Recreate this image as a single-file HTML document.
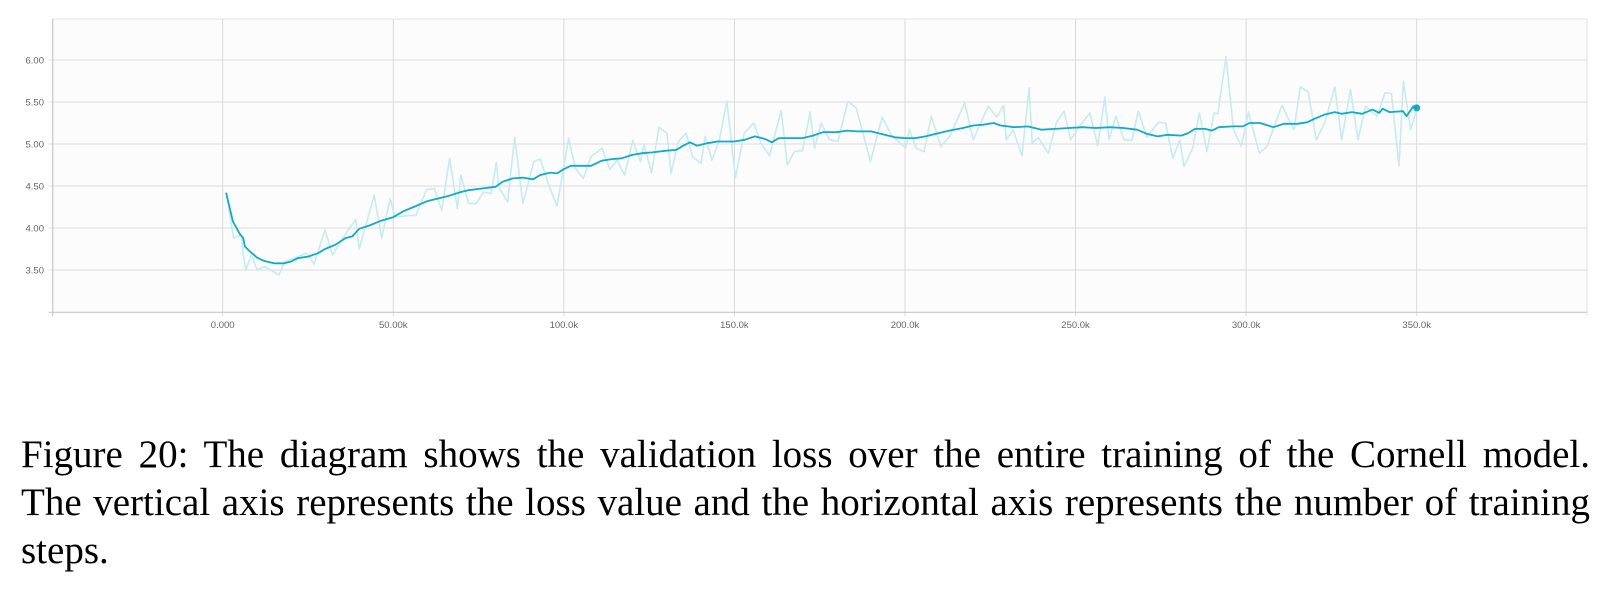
<!DOCTYPE html>
<html><head><meta charset="utf-8"><style>
html,body{margin:0;padding:0;background:#fff;width:1603px;height:596px;overflow:hidden}
svg{position:absolute;left:0;top:0}
.cap{position:absolute;left:21px;width:1569px;font-family:"Liberation Serif",serif;font-size:39px;color:#000;line-height:48px;height:48px}
.j{text-align:justify;text-align-last:justify}
</style></head><body>
<svg width="1603" height="340" id="chart"></svg>
<div class="cap j" style="top:431px">Figure 20: The diagram shows the validation loss over the entire training of the Cornell model.</div>
<div class="cap j" style="top:479px">The vertical axis represents the loss value and the horizontal axis represents the number of training</div>
<div class="cap" style="top:527px">steps.</div>
<script>
const xTicks=[0,50000,100000,150000,200000,250000,300000,350000];
const xTickLabels=["0.000","50.00k","100.0k","150.0k","200.0k","250.0k","300.0k","350.0k"];
const yTicks=[3.5,4.0,4.5,5.0,5.5,6.0];
const yTickLabels=["3.50","4.00","4.50","5.00","5.50","6.00"];
const rawSteps=[1.1,3.2,5.5,6.0,6.8,8.4,10.1,12.3,16.5,18.2,22.1,24.6,26.8,30.0,32.2,36.5,39,40,44.4,46.6,49.1,50.5,54.9,56.6,59.8,62,64.2,66.5,68.8,69.8,72.1,74.3,76.5,78.7,80.2,80.9,83.5,85.6,88,91.2,93.1,95.6,98,101.4,103.4,105.7,108,111.2,113.5,115.6,117.8,120.2,122.5,123.5,125.7,127.9,130.2,131.4,133.5,135.8,137.7,140.2,141.4,143.4,145.6,147.8,150.3,152.9,155.7,157.8,160.3,163.7,165.5,167.6,170,172.2,173.5,175.4,177.9,180.3,183.3,185.7,189.9,193.3,196,200.2,201.3,203.3,205.6,207.7,210.5,213.1,217.5,220,224.4,226.9,228.9,229.7,231.7,234.3,236.4,237.3,239,242,244.4,246.6,248.6,250.8,254.2,256.5,258.6,259.8,261.8,264.2,266.5,268.4,270.9,274.3,276.4,278.5,280.6,281.8,284.3,286.3,288.5,290.6,291.7,294.1,296.3,298.6,300.7,303.9,306.1,310.5,314,315.9,318.2,320.6,323.1,326,328,330.6,332.8,335,338.4,340.7,342.6,344.8,346.1,348.2,350.2];
const rawValues=[4.41,3.88,3.92,3.68,3.50,3.68,3.50,3.54,3.44,3.60,3.66,3.70,3.57,3.98,3.68,3.96,4.10,3.75,4.39,3.88,4.35,4.13,4.15,4.15,4.46,4.47,4.21,4.83,4.23,4.63,4.29,4.29,4.43,4.41,4.78,4.49,4.31,5.08,4.29,4.79,4.82,4.51,4.26,5.07,4.71,4.59,4.85,4.95,4.70,4.81,4.63,5.04,4.79,4.99,4.66,5.20,5.13,4.65,5.02,5.13,4.85,4.77,5.09,4.81,5.05,5.51,4.60,5.13,5.25,5.01,4.86,5.40,4.75,4.91,4.92,5.38,4.95,5.25,5.05,5.03,5.51,5.43,4.79,5.32,5.11,4.95,5.17,4.95,4.91,5.33,4.97,5.09,5.49,5.05,5.45,5.32,5.46,5.05,5.17,4.86,5.67,5.01,5.08,4.89,5.26,5.39,5.05,5.19,5.37,4.98,5.56,5.05,5.33,5.05,5.04,5.39,5.08,5.26,5.25,4.83,5.05,4.73,4.95,5.37,4.91,5.37,5.36,6.04,5.17,4.97,5.38,4.89,4.97,5.46,5.17,5.68,5.62,5.05,5.26,5.68,5.05,5.65,5.05,5.45,5.33,5.61,5.60,4.74,5.75,5.17,5.43];
const smoothSteps=[1,3,5,6,6.5,8,10,12,15,18,20,22,25,28,30,33,36,38,40,43,46,50,53,56,60,63,66,70,72,76,80,82,85,88,91,93,96,98,100,102,105,108,111,114,117,120,123,126,130,133,135,137,139,142,145,150,153,156,159,161,163,166,170,173,176,180,183,186,190,193,197,200,203,206,209,213,217,220,223,226,228,232,236,240,244,248,252,256,260,264,268,271,274,277,281,283,285,288,290,292,296,299,301,304,308,311,315,318,320,323,326,328,331,334,337,339,340,342,346,347,349,350];
const smoothValues=[4.42,4.08,3.93,3.88,3.78,3.72,3.65,3.61,3.58,3.58,3.60,3.64,3.66,3.70,3.75,3.80,3.88,3.90,3.99,4.03,4.08,4.13,4.20,4.25,4.32,4.35,4.38,4.43,4.45,4.47,4.49,4.55,4.59,4.60,4.58,4.63,4.66,4.65,4.70,4.74,4.74,4.74,4.80,4.82,4.83,4.87,4.89,4.90,4.92,4.93,4.98,5.02,4.98,5.01,5.03,5.03,5.05,5.09,5.06,5.02,5.07,5.07,5.07,5.10,5.14,5.14,5.16,5.15,5.15,5.12,5.08,5.07,5.07,5.09,5.12,5.16,5.19,5.22,5.23,5.25,5.22,5.20,5.21,5.17,5.18,5.19,5.20,5.19,5.20,5.19,5.17,5.12,5.09,5.11,5.10,5.13,5.18,5.18,5.16,5.20,5.21,5.21,5.25,5.25,5.20,5.24,5.24,5.26,5.30,5.35,5.38,5.36,5.38,5.36,5.41,5.37,5.42,5.38,5.39,5.33,5.45,5.43];

const svg=document.getElementById('chart');
const NS='http://www.w3.org/2000/svg';
const L=52.7,R=1587,T=19,B=312.3;
const xs=s=>222.7+s*1194/350000;
const ys=v=>270-(v-3.5)*84;
function mk(tag,at){const e=document.createElementNS(NS,tag);for(const k in at)e.setAttribute(k,at[k]);svg.appendChild(e);return e;}
let e=mk('rect',{x:L,y:T,width:R-L,height:B-T,fill:'#fcfcfc'});


e=mk('line',{x1:L,y1:T,x2:R,y2:T,stroke:'#e4e4e4','stroke-width':1});


e=mk('line',{x1:R,y1:T,x2:R,y2:B+4,stroke:'#e0e0e0','stroke-width':1});


yTicks.forEach((v,i)=>{
  const g=mk('line',{x1:L-4,y1:ys(v),x2:R,y2:ys(v),stroke:'#dcdcdc','stroke-width':1});
  
  
  const t=mk('text',{x:44,y:ys(v)+3.5,'text-anchor':'end','font-family':'Liberation Sans, sans-serif','font-size':'9.5',fill:'#666'});
  t.textContent=yTickLabels[i];
  
  
});
xTicks.forEach((s,i)=>{
  const g=mk('line',{x1:xs(s),y1:T,x2:xs(s),y2:B+4,stroke:'#dadada','stroke-width':1});
  
  
  const t=mk('text',{x:xs(s),y:328,'text-anchor':'middle','font-family':'Liberation Sans, sans-serif','font-size':'9.5',fill:'#666'});
  t.textContent=xTickLabels[i];
  
  
});
e=mk('line',{x1:L,y1:T,x2:L,y2:B+4,stroke:'#c8c8c8','stroke-width':1.2});


e=mk('line',{x1:L-4,y1:B,x2:R,y2:B,stroke:'#c8c8c8','stroke-width':1.2});


const rp=rawSteps.map((s,i)=>xs(s*1000).toFixed(1)+','+ys(rawValues[i]).toFixed(1)).join(' ');
e=mk('polyline',{points:rp,fill:'none',stroke:'#c6ebf1','stroke-width':1.6,'stroke-linejoin':'round'});


const sp=smoothSteps.map((s,i)=>xs(s*1000).toFixed(1)+','+ys(smoothValues[i]).toFixed(1)).join(' ');
e=mk('polyline',{points:sp,fill:'none',stroke:'#11abc6','stroke-width':1.8,'stroke-linejoin':'round'});


const n=smoothSteps.length-1;
e=mk('circle',{cx:xs(smoothSteps[n]*1000),cy:ys(smoothValues[n]),r:3.5,fill:'#11abc6'});


</script>
</body></html>
